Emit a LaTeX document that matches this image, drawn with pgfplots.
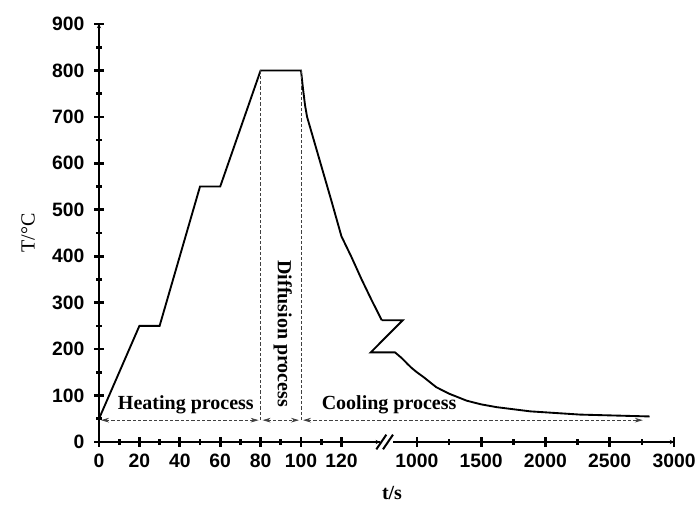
\documentclass[border=0pt]{standalone}
\usepackage{fontspec}
\setmainfont{Liberation Serif}
\newfontfamily\tickfont{Liberation Sans}
\usepackage{pgfplots}
\pgfplotsset{compat=1.18}
\usetikzlibrary{arrows.meta}

\pgfplotsset{
  brk/.style={
    scale only axis,
    height=313.5pt,
    ymin=0, ymax=900,
    tick align=inside,
    major tick length=7pt,
    minor tick length=4pt,
    every tick/.style={black, line width=2pt},
    minor x tick num=1,
    ticklabel style={font=\tickfont\bfseries\fontsize{14.5}{15}\selectfont},
    /pgf/number format/assume math mode=true,
    /pgf/number format/1000 sep={},
    clip=false,
    x axis line style={-},
    y axis line style={-},
  },
}

\begin{document}
\begin{tikzpicture}
\useasboundingbox (-74.25pt,-48pt) rectangle (450pt,331.5pt);

% left part of the broken time axis
\begin{axis}[brk,
    axis x line=bottom, axis y line=left,
    at={(0pt,0pt)},
    width=210.6pt,
    xmin=0, xmax=139,
    xtick={0,20,40,60,80,100,120},
    ytick={0,100,...,900},
    minor y tick num=1,
    xticklabel style={yshift=-2pt},
    yticklabel style={xshift=-4pt},
]
\addplot[black, line width=1.4pt] coordinates {
  (0,50) (20,250) (30,250) (50,550) (60,550) (80,800) (100,800)
  (101,760) (102,725) (103,700) (106,655) (110,595) (115,520)
  (120,443) (125,398) (130,350) (135,305) (140,262)
};
\draw[black!75, line width=0.5pt, dash pattern=on 2.5pt off 1.5pt]
  (axis cs:80,800) -- (axis cs:80,47)
  (axis cs:100,800) -- (axis cs:100,47);
\draw[black!75, line width=0.5pt, dash pattern=on 2.5pt off 1.5pt,
      {Stealth[length=6pt,width=3.5pt]}-{Stealth[length=6pt,width=3.5pt]}]
  (axis cs:1,47) -- (axis cs:79,47);
\draw[black!75, line width=0.5pt, dash pattern=on 2.5pt off 1.5pt,
      {Stealth[length=6pt,width=3.5pt]}-{Stealth[length=6pt,width=3.5pt]}]
  (axis cs:81,47) -- (axis cs:99,47);
\coordinate (cstart) at (axis cs:101,47);
\node[font=\bfseries\fontsize{15}{16}\selectfont] at (axis cs:43,80) {Heating process};
\node[font=\bfseries\fontsize{15}{16}\selectfont, rotate=-90] at (axis cs:91,233) {Diffusion process};
\node[font=\bfseries\fontsize{15}{16}\selectfont] at (axis cs:143.6,80) {Cooling process};
\draw[line width=2pt, line cap=rect] (rel axis cs:0,1) -- (rel axis cs:0,0) -- (rel axis cs:1,0);
\end{axis}

% right part of the broken time axis
\begin{axis}[brk,
    axis x line=bottom, axis y line=none,
    at={(220.5pt,0pt)},
    width=210.75pt,
    xmin=813.4, xmax=3000,
    xtick={1000,1500,2000,2500,3000},
    xticklabel style={yshift=-2pt},
]
\addplot[black, line width=1.4pt] coordinates {
  (726,262) (889,262) (640,193) (829,193) (880,181) (930,167)
  (960,159) (1000,150) (1050,140) (1150,118) (1250,104) (1386,89)
  (1500,81) (1620,75) (1880,66) (2270,59) (2810,55)
};
\coordinate (cend) at (axis cs:2757,47);
\coordinate (br) at (rel axis cs:0,0);
\draw[line width=2pt] (rel axis cs:0,0) -- (rel axis cs:1,0);
\end{axis}

\draw[black!75, line width=0.5pt, dash pattern=on 2.5pt off 1.5pt,
      {Stealth[length=6pt,width=3.5pt]}-{Stealth[length=6pt,width=3.5pt]}]
  (cstart) -- (cend);

% break marks
\fill[white] ([shift={(-10pt,-3pt)}]br) rectangle ([shift={(0pt,3pt)}]br);
\draw[line width=1.5pt] ([shift={(-12.5pt,-5.5pt)}]br) -- ([shift={(-5pt,5.5pt)}]br);
\draw[line width=1.5pt] ([shift={(-7.5pt,-5.5pt)}]br) -- ([shift={(0pt,5.5pt)}]br);

\node[rotate=90, font=\fontsize{15}{16}\selectfont] at (-53.25pt,156.75pt) {T/°C};
\node[font=\bfseries\fontsize{15}{16}\selectfont] at (219.75pt,-38.25pt) {t/s};
\end{tikzpicture}
\end{document}
